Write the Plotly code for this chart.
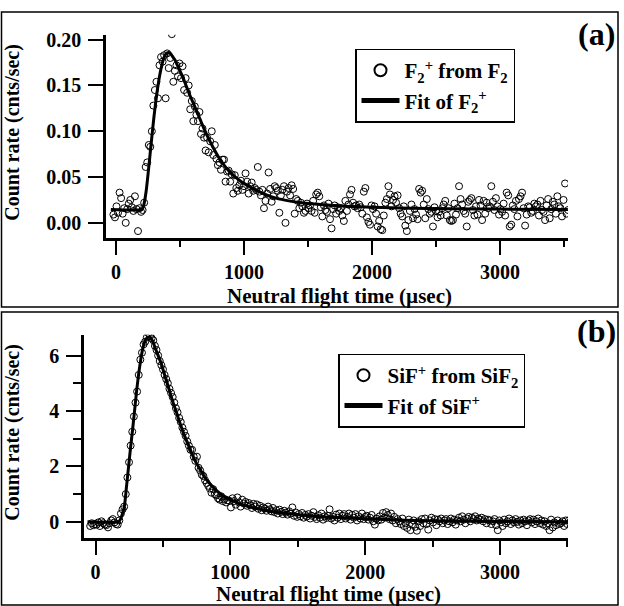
import plotly.graph_objects as go

W, H = 624, 606

# ---------------- Panel (a): F2+ from F2 ----------------
t0_a, step_a = -20, 12
counts_a = [
    0.009, 0.006, 0.018, 0.011, 0.033, 0.027, 0.010, 0.016, 0.000, 0.015,
    0.021, 0.025, 0.017, 0.013, 0.029, 0.015, -0.009, 0.016, 0.012, 0.014,
    0.022, 0.061, 0.066, 0.085, 0.083, 0.100, 0.128, 0.145, 0.154, 0.136,
    0.172, 0.181, 0.176, 0.183, 0.136, 0.185, 0.169, 0.180, 0.206,
    0.154, 0.166, 0.172, 0.160, 0.174, 0.158, 0.171, 0.145, 0.158, 0.142,
    0.150, 0.124, 0.133, 0.111, 0.127, 0.118, 0.111, 0.121, 0.097, 0.103,
    0.093, 0.079, 0.093, 0.077, 0.089, 0.100, 0.074, 0.085, 0.070, 0.063,
    0.066, 0.058, 0.069, 0.069, 0.045, 0.056, 0.057, 0.045, 0.053, 0.032,
    0.052, 0.038, 0.035, 0.041, 0.046, 0.036, 0.040,
    0.054, 0.045, 0.032, 0.040, 0.044, 0.035, 0.038, 0.036, 0.061, 0.034,
    0.030, 0.036, 0.016, 0.024, 0.032, 0.055, 0.037, 0.023, 0.029, 0.040,
    0.038, 0.035, 0.011, 0.030, 0.036, 0.040, 0.000, 0.034, 0.038, 0.030,
    0.041, 0.037, 0.010, 0.026, 0.024, 0.016, 0.022, 0.018, 0.011, 0.013,
    0.021, 0.016,
    0.019, 0.013, 0.024, 0.011, 0.031, 0.033, 0.029, 0.017, 0.007, 0.019, 0.014, 0.012,
    0.021, 0.004, -0.006, 0.015, 0.019, 0.010, 0.017, 0.013, 0.016, 0.008, 0.002, 0.024,
    0.013, 0.020, 0.031, 0.036, 0.022, 0.018, 0.019, 0.016, 0.020, 0.017, 0.010, 0.034,
    0.038, 0.006, 0.001, -0.002, 0.019, 0.015, 0.018, 0.010, -0.004, 0.002, -0.007, -0.008,
    0.008, 0.022, 0.026, 0.040, 0.031, 0.018, 0.025, 0.029, 0.022, 0.030, 0.016, 0.010,
    0.007, 0.018, -0.003, -0.009, 0.003, 0.013, 0.020, 0.005, 0.015, 0.009, 0.004, 0.037,
    0.033, 0.035, 0.020, 0.005, 0.026, 0.015, 0.010, 0.012, -0.004, 0.017, 0.013, 0.006,
    0.012, 0.008, 0.016, 0.020, 0.024, 0.008, 0.016, 0.003, 0.002, 0.003, 0.021, 0.009,
    0.016, 0.040, 0.026, 0.020, 0.013, 0.010, -0.004, 0.023, 0.025, 0.027, 0.014, 0.008,
    0.018, 0.009, 0.025, 0.019, 0.003, 0.024, 0.010, 0.022, 0.016, 0.018, 0.040, 0.023,
    0.014, 0.027, 0.018, 0.009, 0.015, 0.012, 0.021, 0.008, 0.033, 0.030, -0.004, -0.002,
    0.019, 0.015, 0.024, 0.007, 0.026, 0.029, 0.033, 0.016, -0.003, 0.009, 0.018, 0.017,
    0.011, 0.013, 0.021, 0.018, 0.020, 0.008, 0.024, 0.014, 0.012, 0.003, 0.019, 0.026,
    0.005, 0.015, 0.023, 0.020, 0.010, 0.029, 0.018, 0.016, 0.007, 0.025, 0.043, 0.010,
    0.014,
]
time_a = [t0_a + step_a * i for i in range(len(counts_a))]

fit_time_a = [-40, 200, 212, 224, 236, 248, 260, 272, 284, 296, 308, 320, 335, 350,
              365, 380, 395, 410, 425, 440, 460, 480, 500, 525, 550, 575, 600, 630,
              660, 690, 720, 760, 800, 850, 900, 950, 1000, 1075, 1150, 1250, 1350,
              1450, 1600, 1800, 2000, 2300, 2600, 3000, 3530]
fit_a = [0.0145, 0.0145, 0.017, 0.024, 0.035, 0.050, 0.066, 0.083, 0.099, 0.115,
         0.129, 0.142, 0.156, 0.167, 0.176, 0.182, 0.185, 0.186, 0.185, 0.182,
         0.178, 0.172, 0.166, 0.158, 0.149, 0.140, 0.132, 0.122, 0.112, 0.102,
         0.093, 0.082, 0.072, 0.062, 0.054, 0.048, 0.043, 0.037, 0.032, 0.027,
         0.024, 0.022, 0.020, 0.018, 0.017, 0.016, 0.0155, 0.015, 0.0145]

# ---------------- Panel (b): SiF+ from SiF2 ----------------
t0_b, step_b = -40, 12
counts_b = [
    -0.15, -0.05, -0.12, -0.08, -0.10, -0.02, -0.15, 0.02, -0.05, -0.10,
    -0.12, -0.20, -0.05, 0.05, 0.10, -0.02, -0.08, -0.10, 0.05,
    0.30, 0.45, 0.55, 1.00, 1.60, 2.15, 2.75, 3.25, 3.80, 4.30,
    4.70, 5.30, 5.85, 6.10, 6.40, 6.50, 6.65, 6.80,
    6.70, 6.62, 6.55, 6.35, 6.20, 6.00, 5.80, 5.65, 5.50, 5.30,
    5.15, 5.00, 4.80, 4.65, 4.50, 4.30, 4.10, 3.95, 3.75, 3.60,
    3.40, 3.25, 3.10, 2.90, 2.75, 2.60, 2.60, 2.35, 2.20, 2.35,
    1.95, 1.85, 1.70, 1.65, 1.50, 1.40, 1.30, 1.20, 1.05, 1.18,
    1.00, 0.95, 0.85, 0.80, 0.92, 0.75, 0.82, 0.70, 0.78, 0.76,
    0.52, 0.85, 0.75, 0.62, 0.88, 0.70, 0.55, 0.80, 0.66, 0.72, 0.58, 0.68,
    0.60, 0.50, 0.65, 0.55, 0.63, 0.47, 0.58, 0.42, 0.52, 0.48, 0.40, 0.55,
    0.45, 0.38, 0.50, 0.35, 0.42, 0.30, 0.44, 0.36, 0.28, 0.40, 0.33, 0.26,
    0.38, 0.30, 0.52, 0.22, 0.34, 0.18, 0.28, 0.20, 0.32, 0.15, 0.25, 0.19,
    0.28, 0.12, 0.22, 0.35, 0.18, 0.10, 0.24, 0.15, 0.30, 0.08, 0.20, 0.14,
    0.22, 0.45, 0.12, 0.18, 0.05, 0.26, 0.15, 0.30, 0.10, 0.22, 0.28, 0.12,
    0.18, 0.30, 0.08, 0.25, 0.15, 0.28, 0.05, 0.20, 0.12, 0.30, 0.10, 0.18,
    0.22, 0.08, 0.15, 0.25, 0.02, -0.10, 0.12, 0.05, 0.20, 0.08, 0.32, 0.15,
    0.35, 0.25, 0.10, 0.30, 0.05, 0.18, -0.05, 0.10, 0.02, -0.08, 0.12, -0.15,
    -0.05, -0.22, 0.08, -0.30, -0.10, 0.05, -0.18, -0.32, 0.02, -0.15, 0.10, -0.05,
    0.12, -0.08, -0.28, 0.05, 0.15, -0.02, 0.10, -0.12, 0.08, 0.02, 0.12, -0.05,
    0.05, 0.10, -0.08, 0.02, 0.12, -0.02, 0.08, -0.10, 0.05, 0.15, 0.02, 0.20,
    0.08, -0.05, 0.12, 0.18, 0.02, 0.15, 0.10, 0.20, 0.05, 0.12, 0.08, 0.15,
    0.02, 0.10, -0.05, 0.08, 0.05, -0.08, 0.02, 0.10, -0.12, -0.30, 0.05, -0.02,
    -0.15, 0.08, -0.05, 0.02, 0.12, -0.08, 0.05, -0.02, 0.10, 0.00, -0.10, 0.05,
    -0.05, 0.08, 0.02, -0.12, 0.05, 0.10, -0.02, 0.08, -0.08, 0.02, 0.12, -0.05,
    0.05, -0.10, 0.02, -0.15, -0.05, -0.30, 0.08, -0.20, -0.02, -0.12, 0.05, -0.08,
    -0.05, 0.02, -0.15, 0.05, -0.08, 0.06, 0.02,
]
time_b = [t0_b + step_b * i for i in range(len(counts_b))]

fit_time_b = [-60, 170, 185, 200, 215, 230, 245, 260, 275, 290, 305, 320, 335, 350,
              365, 380, 395, 410, 425, 440, 460, 480, 500, 525, 550, 575, 600, 630,
              660, 690, 720, 750, 780, 810, 840, 870, 900, 950, 1000, 1075, 1150,
              1250, 1350, 1450, 1600, 1800, 2000, 2300, 2600, 3000, 3530]
fit_b = [0.0, 0.0, 0.1, 0.3, 0.6, 1.3, 2.0, 2.7, 3.35, 4.05, 4.75, 5.35, 5.85, 6.25,
         6.5, 6.62, 6.67, 6.64, 6.5, 6.3, 6.05, 5.8, 5.5, 5.1, 4.7, 4.3, 3.95, 3.5,
         3.1, 2.75, 2.4, 2.1, 1.85, 1.6, 1.42, 1.26, 1.12, 0.93, 0.8, 0.64, 0.53,
         0.42, 0.34, 0.28, 0.21, 0.15, 0.11, 0.06, 0.03, 0.01, 0.0]

x_ticks = [0, 1000, 2000, 3000]
y_ticks_a = [0.00, 0.05, 0.10, 0.15, 0.20]
y_ticks_b = [0, 2, 4, 6]

FONT = "Liberation Serif"
BOLD = dict(family=FONT, size=20, color="black", weight="bold")

fig = go.Figure()
mk = dict(symbol="circle-open", size=7, color="black", line=dict(width=1, color="black"))
fig.add_trace(go.Scatter(x=time_a, y=counts_a, mode="markers", marker=mk,
                         name="F<sub>2</sub><sup>+</sup> from F<sub>2</sub>",
                         xaxis="x", yaxis="y", legend="legend"))
fig.add_trace(go.Scatter(x=fit_time_a, y=fit_a, mode="lines",
                         line=dict(color="black", width=3, shape="spline", smoothing=0.5),
                         name="Fit of F<sub>2</sub><sup>+</sup>",
                         xaxis="x", yaxis="y", legend="legend"))
fig.add_trace(go.Scatter(x=time_b, y=counts_b, mode="markers", marker=mk,
                         name="SiF<sup>+</sup> from SiF<sub>2</sub>",
                         xaxis="x2", yaxis="y2", legend="legend2"))
fig.add_trace(go.Scatter(x=fit_time_b, y=fit_b, mode="lines",
                         line=dict(color="black", width=3, shape="spline", smoothing=0.5),
                         name="Fit of SiF<sup>+</sup>",
                         xaxis="x2", yaxis="y2", legend="legend2"))

def px(x):
    return x / W

def py(y):
    return 1 - y / H

axis_common = dict(showline=True, linewidth=2.5, linecolor="black", showgrid=False,
                   zeroline=False, ticks="outside", tickwidth=2, tickcolor="black",
                   ticklen=15, tickfont=BOLD)

legend_font = dict(family=FONT, size=21, color="black", weight="bold")

fig.update_layout(
    width=W, height=H, margin=dict(l=0, r=0, t=0, b=0),
    paper_bgcolor="white", plot_bgcolor="rgba(0,0,0,0)",
    font=dict(family=FONT, color="black"),
    xaxis=dict(domain=[px(106), px(568)], anchor="y", range=[-78, 3531],
               tickvals=x_ticks,
               minor=dict(ticks="outside", ticklen=7, tickwidth=2, dtick=500, tick0=0,
                          tickcolor="black"),
               **axis_common),
    yaxis=dict(domain=[py(234), py(29)], anchor="x", range=[-0.0162, 0.2054],
               tickvals=y_ticks_a, tickformat=".2f", ticklabelstandoff=3,
               **axis_common),
    xaxis2=dict(domain=[px(84), px(568)], anchor="y2", range=[-86, 3505],
                tickvals=x_ticks,
                minor=dict(ticks="outside", ticklen=7, tickwidth=2, dtick=500, tick0=0,
                           tickcolor="black"),
                **axis_common),
    yaxis2=dict(domain=[py(537), py(332)], anchor="x2", range=[-0.571, 6.75],
                tickvals=y_ticks_b, ticklabelstandoff=3,
                minor=dict(ticks="outside", ticklen=8, tickwidth=2, dtick=1, tick0=0,
                           tickcolor="black"),
                **axis_common),
    legend=dict(x=px(355), y=py(43), xanchor="left", yanchor="top",
                bgcolor="white", bordercolor="black", borderwidth=1.5,
                font=legend_font, tracegroupgap=0, itemsizing="constant",
                itemwidth=38),
    legend2=dict(x=px(338), y=py(351), xanchor="left", yanchor="top",
                 bgcolor="white", bordercolor="black", borderwidth=1.5,
                 font=legend_font, tracegroupgap=0, itemsizing="constant",
                 itemwidth=38),
    showlegend=True,
)

shapes = [
    dict(type="rect", xref="paper", yref="paper", x0=px(1.5), x1=px(618),
         y0=py(304), y1=py(6), line=dict(color="black", width=1.5)),
    dict(type="rect", xref="paper", yref="paper", x0=px(1.5), x1=px(618),
         y0=py(605), y1=py(309), line=dict(color="black", width=1.5)),
]
fig.update_layout(shapes=shapes)

ann = []
def text(x, y, s, size=20, angle=0):
    ann.append(dict(x=px(x), y=py(y), xref="paper", yref="paper", text=s,
                    showarrow=False, xanchor="center", yanchor="middle",
                    textangle=angle,
                    font=dict(family=FONT, size=size, color="black", weight="bold")))

text(13, 128, "Count rate (cnts/sec)", 20, -90)
text(13, 431, "Count rate (cnts/sec)", 20, -90)
text(340, 293, "Neutral flight time (µsec)", 21)
text(328, 594, "Neutral flight time (µsec)", 21)
text(596, 28, "(a)", 32)
text(596, 328, "(b)", 32)
fig.update_layout(annotations=ann)

fig.write_html("out.html")
